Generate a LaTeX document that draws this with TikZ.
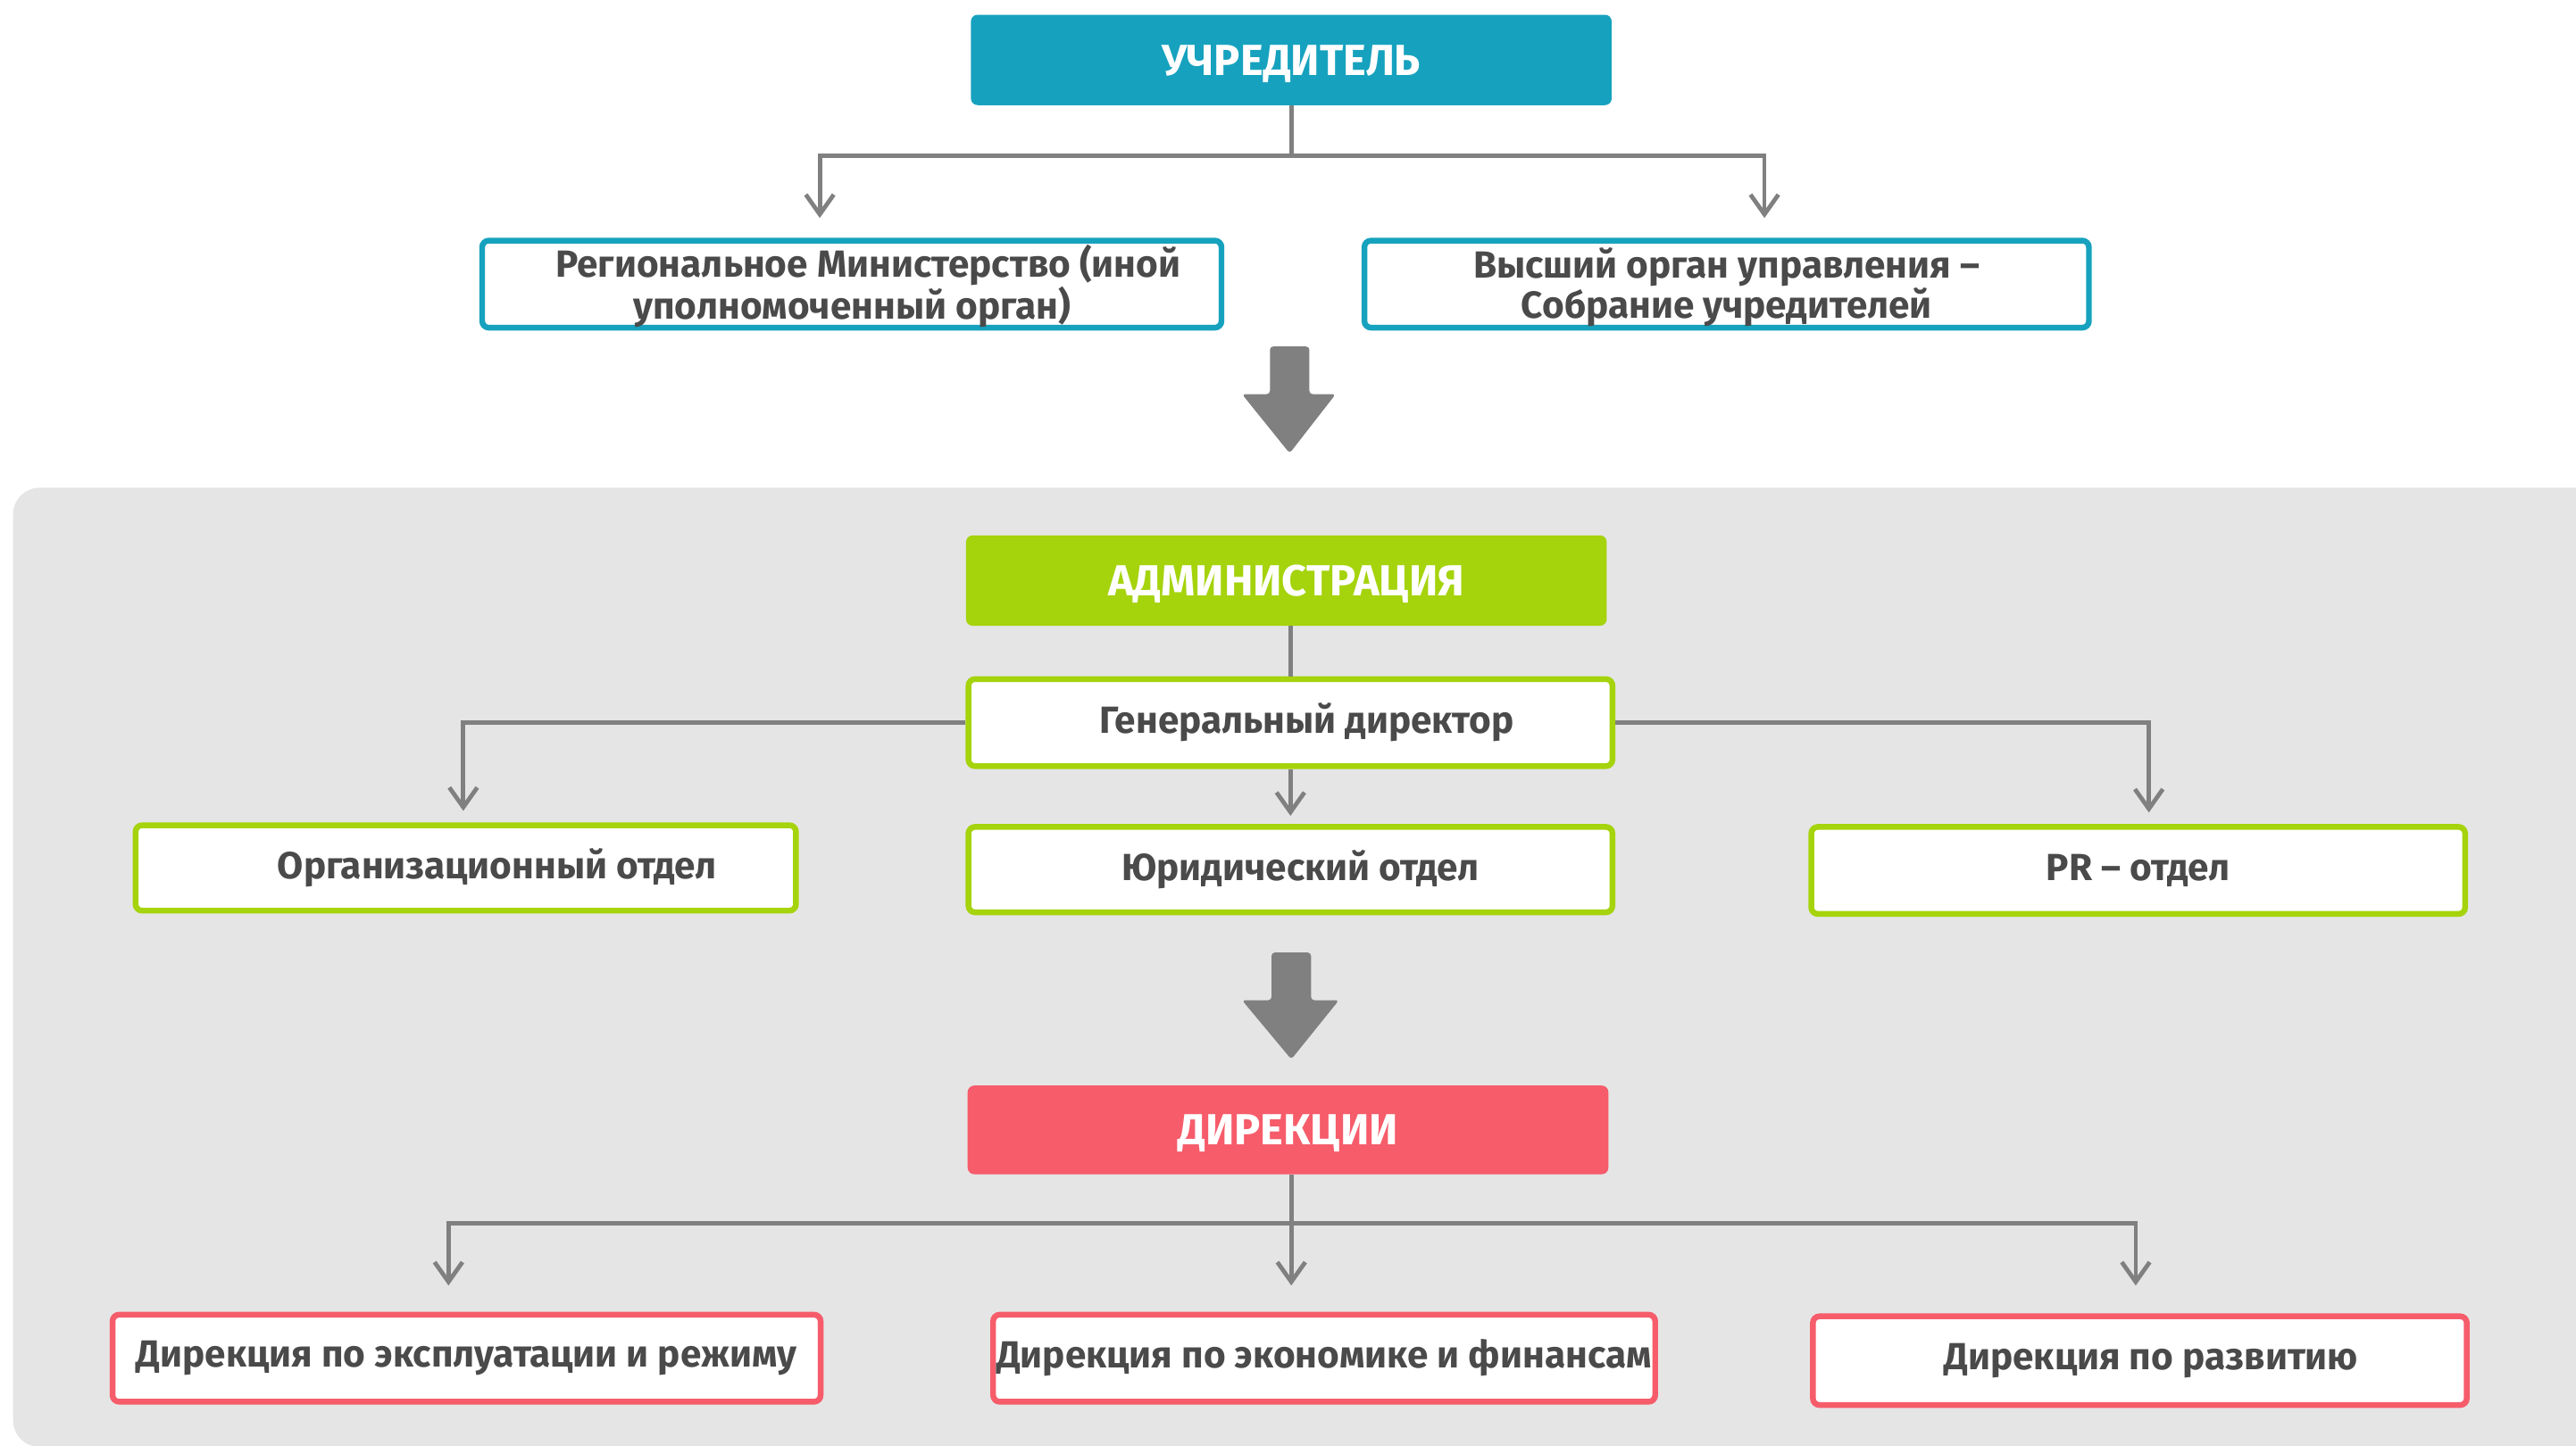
\documentclass[tikz,border=0pt]{standalone}
\usepackage{fontspec}
\setmainfont{Fira Sans}
\usetikzlibrary{arrows.meta,calc}
\definecolor{tealc}{HTML}{16A2BE}
\definecolor{greenc}{HTML}{A5D30C}
\definecolor{redc}{HTML}{F65C6A}
\definecolor{lineg}{HTML}{808080}
\definecolor{bgg}{HTML}{E5E5E5}
\definecolor{txtc}{HTML}{4A4A4A}
\begin{document}
\begin{tikzpicture}[x=1pt,y=-1pt,
  hdr/.style={rounded corners=4pt, inner sep=0pt, text=white, text height=18.5pt, text depth=0pt,
    font=\bfseries\fontsize{26.5}{28}\selectfont},
  box/.style={draw, line width=3.5pt, fill=white, rounded corners=4pt, inner sep=0pt,
    text=txtc, align=center, font=\bfseries\fontsize{23}{23}\selectfont},
  plain/.style={draw=lineg, line width=2.6pt},
  conn/.style={draw=lineg, line width=2.6pt, -{Straight Barb[length=12pt,width=17pt]}},
  bigarrow/.style={fill=lineg, rounded corners=2pt}
]
\useasboundingbox (0,0) rectangle (1568,880);
\clip (0,0) rectangle (1568,880);
\fill[white] (0,0) rectangle (1568,880);
\fill[bgg, rounded corners=16pt] (8,297) rectangle (1620,881);

% top level
\node[hdr, fill=tealc, minimum width=390pt, minimum height=55pt] (uch) at (786,36.5) {УЧРЕДИТЕЛЬ};
\node[box, draw=tealc, minimum width=450pt, minimum height=53pt] (reg) at (518.5,173)
  {\hspace*{20pt}\rule{0pt}{22pt}Региональное Министерство (иной\\уполномоченный орган)};
\node[box, draw=tealc, minimum width=441pt, minimum height=53pt] (vys) at (1051,173)
  {\rule{0pt}{22pt}Высший орган управления –\\Собрание учредителей};

\coordinate (j1) at (786,95);
\draw[plain] (uch.south) -- (j1);
\draw[conn] (j1) -| ([xshift=-19.5pt,yshift=12pt]reg.north);
\draw[conn] (j1) -| ([xshift=23pt,yshift=12pt]vys.north);

\fill[bigarrow] (773,211) -- (797,211) -- (797,240) -- (813,240) -- (785,276) -- (756,240) -- (773,240) -- cycle;

% administration
\node[hdr, fill=greenc, minimum width=390pt, minimum height=55pt] (adm) at (783,353.5) {АДМИНИСТРАЦИЯ};
\node[box, draw=greenc, minimum width=392pt, minimum height=53pt] (gd) at (785.5,440)
  {\hspace*{20pt}Генеральный директор};
\node[box, draw=greenc, minimum width=402pt, minimum height=52pt] (org) at (283.5,528.5)
  {\hspace*{38pt}Организационный отдел};
\node[box, draw=greenc, minimum width=392pt, minimum height=52pt] (yur) at (785.5,529.5)
  {\hspace*{12pt}Юридический отдел};
\node[box, draw=greenc, minimum width=398pt, minimum height=53pt] (pr) at (1301.5,530)
  {PR – отдел};

\draw[plain] (gd.north |- adm.south) -- (gd.north);
\draw[conn] (gd.west) -| ([xshift=-1.5pt,yshift=7pt]org.north);
\draw[conn] (gd.east) -| ([xshift=6.5pt,yshift=7pt]pr.north);
\draw[conn, shorten >=5pt] (gd.south) -- (yur.north);

\fill[bigarrow] (774,580) -- (798,580) -- (798,609) -- (815,609) -- (786,645) -- (756,609) -- (774,609) -- cycle;

% directorates
\node[hdr, fill=redc, minimum width=390pt, minimum height=54pt] (dir) at (784,688) {ДИРЕКЦИИ};
\node[box, draw=redc, minimum width=431pt, minimum height=53pt] (d1) at (284,827)
  {Дирекция по эксплуатации и режиму};
\node[box, draw=redc, minimum width=403pt, minimum height=53pt] (d2) at (806,827)
  {Дирекция по экономике и финансам};
\node[box, draw=redc, minimum width=398pt, minimum height=54pt] (d3) at (1302.5,828.5)
  {\hspace*{14pt}Дирекция по развитию};

\coordinate (j3) at (786,745);
\draw[plain] (j3 |- dir.south) -- (j3);
\draw[conn] (j3) -| ([xshift=-11pt,yshift=16pt]d1.north);
\draw[conn] (j3) -- ([xshift=-20pt,yshift=16pt]d2.north);
\draw[conn] (j3) -| ([xshift=-2.5pt,yshift=17pt]d3.north);
\end{tikzpicture}
\end{document}
